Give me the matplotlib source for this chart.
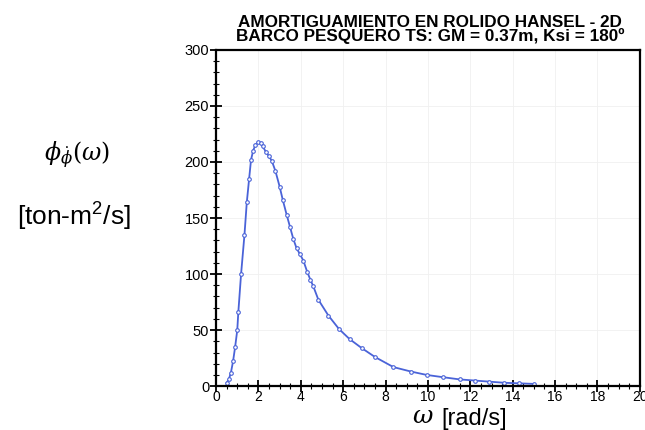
import matplotlib.pyplot as plt
from matplotlib.ticker import MultipleLocator

plt.rcParams['font.family'] = ['Liberation Sans', 'DejaVu Sans']
plt.rcParams['mathtext.fontset'] = 'dejavuserif'

# frequency [rad/s] and roll damping [ton-m^2/s]
omega = [0.5, 0.6, 0.7, 0.8, 0.9, 1.0, 1.05, 1.18, 1.34, 1.45, 1.56, 1.65,
         1.75, 1.85, 2.0, 2.1, 2.2, 2.35, 2.5, 2.63, 2.8, 3.0, 3.15, 3.33,
         3.49, 3.65, 3.8, 3.95, 4.12, 4.3, 4.45, 4.59, 4.83, 5.3, 5.8, 6.3,
         6.87, 7.5, 8.37, 9.2, 9.94, 10.7, 11.5, 12.2, 12.9, 13.6, 14.3, 15.0]
damping = [3, 6, 12, 22, 35, 50, 66, 100, 135, 164, 185, 202,
           210, 215, 218, 217, 214, 209, 205, 201, 192, 178, 166, 153,
           142, 131, 123, 118, 112, 102, 95, 89, 77, 63, 51, 42,
           34, 26, 17, 13, 10, 8, 6, 5, 4, 3, 2.5, 2]

title = 'AMORTIGUAMIENTO EN ROLIDO HANSEL - 2D\nBARCO PESQUERO TS: GM = 0.37m, Ksi = 180º'

fig = plt.figure(figsize=(6.45, 4.3), dpi=100)
ax = fig.add_axes([0.335, 0.102, 0.657, 0.782])

ax.plot(omega, damping, color='#4a63d8', lw=1.3, marker='o', ms=2.6,
        mfc='white', mec='#4a63d8', mew=0.8)

ax.set_xlim(0, 20)
ax.set_ylim(0, 300)
ax.xaxis.set_major_locator(MultipleLocator(2))
ax.xaxis.set_minor_locator(MultipleLocator(0.5))
ax.yaxis.set_major_locator(MultipleLocator(50))
ax.yaxis.set_minor_locator(MultipleLocator(10))
ax.tick_params(which='major', direction='inout', length=8, width=1.3, labelsize=10.5, pad=1)
ax.tick_params(axis='x', which='major', pad=-1, labelsize=10)
ax.tick_params(which='minor', direction='inout', length=4, width=0.8)
for s in ax.spines.values():
    s.set_linewidth(1.6)
ax.grid(True, color='#f0f0f0', lw=0.6)

fig.text(0.667, 0.932, title, fontsize=12.3, fontweight='bold', linespacing=0.85,
         ha='center', va='center')
# x label: italic serif omega followed by the unit
fig.text(0.655, 0.004, 'ω', fontsize=18, family='DejaVu Serif', style='italic',
         ha='center', va='bottom')
fig.text(0.685, 0.0, '[rad/s]', fontsize=17, ha='left', va='bottom')

fig.text(0.12, 0.64, r'$\phi_{\dot{\phi}}(\omega)$', fontsize=17, ha='center', va='center')
fig.text(0.115, 0.495, r'[ton-m$^\mathregular{2}$/s]', fontsize=19, ha='center', va='center')

fig.savefig('out.png', dpi=100)
